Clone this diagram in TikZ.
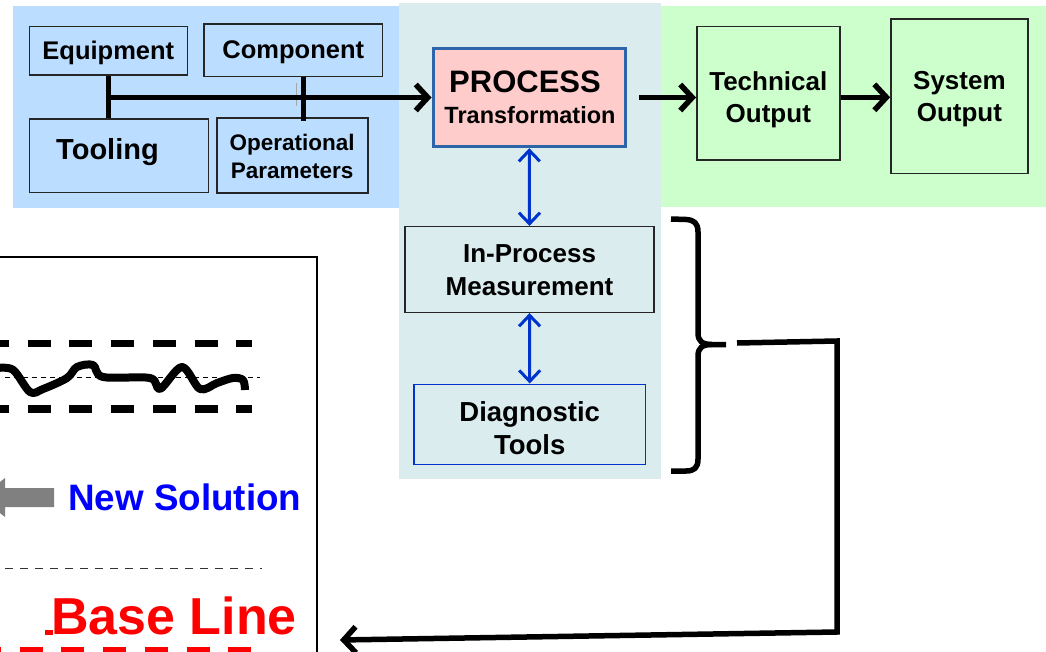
\documentclass[tikz,border=0pt]{standalone}
\usepackage{fontspec}
\setmainfont{Liberation Sans}
\usetikzlibrary{arrows.meta}
\definecolor{bluebg}{RGB}{187,221,255}
\definecolor{tealbg}{RGB}{218,236,237}
\definecolor{greenbg}{RGB}{204,255,204}
\definecolor{pinkfill}{RGB}{255,204,204}
\definecolor{procborder}{RGB}{46,100,168}
\definecolor{arrblue}{RGB}{0,51,204}
\definecolor{newblue}{RGB}{0,0,255}
\definecolor{basered}{RGB}{255,0,0}
\definecolor{arrgray}{RGB}{128,128,128}
\newcommand{\fsz}[2]{\fontsize{#1}{#2}\selectfont\bfseries}
\begin{document}
\begin{tikzpicture}[x=1pt,y=-1pt,
  box/.style={draw=black!85, line width=1.6pt, inner sep=0pt, align=center},
  lbl/.style={inner sep=0pt, align=center},
  txt/.style={inner sep=0pt, anchor=base},
  blackarrow/.style={line width=5.5pt, -{Straight Barb[length=12pt,width=26pt]}},
  bluearrow/.style={draw=arrblue, line width=3pt, {Straight Barb[length=11pt,width=21pt]}-{Straight Barb[length=11pt,width=21pt]}},
  stub/.style={line width=5pt}
]
\useasboundingbox (0,0) rectangle (1046,652);
\clip (0,0) rectangle (1046,652);
% backgrounds
\fill[bluebg] (13,6) rectangle (400,208);
\fill[greenbg] (660,6) rectangle (1046,207.5);
\fill[tealbg] (399,3) rectangle (660.7,479.3);

% top-left boxes
\node[box, fill=bluebg, minimum width=158pt, minimum height=48.3pt,
  label={[lbl, name=equipt, font=\fsz{25.5}{30}, yshift=-2.5pt]center:Equipment}] (equip) at (108.3,50.8) {};
\node[box, fill=bluebg, minimum width=178.7pt, minimum height=52.7pt,
  label={[lbl, name=compt, font=\fsz{25.5}{30}, yshift=-1.5pt]center:Component}] (comp) at (293.3,50.3) {};
\node[box, fill=bluebg, minimum width=179pt, minimum height=73.4pt] (tool) at (118.8,156) {};
\node[txt, font=\fsz{29}{34}] (toolt) at (107.5,160) {Tooling};
\node[box, fill=bluebg, minimum width=151pt, minimum height=75pt,
  label={[lbl, name=opert, font=\fsz{22.5}{28}, yshift=-1pt]center:Operational\\Parameters}] (oper) at (292.2,155.8) {};

% process box
\node[box, draw=procborder, line width=3pt, fill=pinkfill, minimum width=192.6pt, minimum height=98.4pt] (proc) at (529.3,97.5) {};
\node[txt, font=\fsz{31}{34}] (proct) at (525,92.3) {PROCESS};
\node[txt, font=\fsz{23.5}{28}] (transt) at (530,124) {Transformation};

% outputs
\node[box, fill=greenbg, minimum width=143pt, minimum height=133.3pt,
  label={[lbl, name=techt, font=\fsz{26}{32}, yshift=-6pt]center:Technical\\Output}] (tech) at (768.3,93.3) {};
\node[box, fill=greenbg, minimum width=137pt, minimum height=154.3pt,
  label={[lbl, name=syst, font=\fsz{26}{32}, yshift=-3pt]center:System\\Output}] (sys) at (959.4,96.2) {};

% measurement
\node[box, fill=tealbg, minimum width=249pt, minimum height=85.6pt,
  label={[lbl, name=inproct, font=\fsz{26}{33}, yshift=-1pt]center:In-Process\\Measurement}] (inproc) at (529.5,269.5) {};
\node[box, draw=arrblue, fill=tealbg, minimum width=231.3pt, minimum height=80pt,
  label={[lbl, name=diagt, font=\fsz{27.5}{33}, yshift=-4pt]center:Diagnostic\\Tools}] (diag) at (529.7,424.3) {};

% input connectors
\draw[stub] (equip.south) -- (equip.south |- tool.north);
\draw[stub] ([xshift=10pt]comp.south) -- ([xshift=10pt,yshift=-4pt]comp.south |- oper.north);
\draw[draw=black!35, line width=1.2pt] (296.7,83) -- (296.7,106);
\draw[blackarrow] (equip.south |- proc.west) -- (proc.west);

% output connectors
\draw[blackarrow] ([xshift=12pt]proc.east) -- (proc.east -| tech.west);
\draw[blackarrow] ([yshift=-4pt]tech.east) -- ([yshift=-4pt]tech.east -| sys.west);

% blue double arrows
\draw[bluearrow] (proc.south) -- (inproc.north);
\draw[bluearrow] (inproc.south) -- (diag.north);

% brace
\draw[line width=5.5pt, line join=round]
  (671,219) -- (686,219.5) .. controls (694,220) and (698,223) .. (698,232) -- (698,333)
  .. controls (698,341) and (702,344.5) .. (712,344.5) -- (726,344.5);
\draw[line width=5.5pt, line join=round]
  (712,344.5) .. controls (702,344.5) and (698,348) .. (698,356) -- (698,459)
  .. controls (698,468) and (694,471) .. (686,471) -- (671,471);

% feedback
\coordinate (fbA) at (737,343);
\coordinate (fbB) at (837,341);
\coordinate (fbC) at (837,632);
\coordinate (fbD) at (340,640);
\draw[line width=5.5pt, -{Straight Barb[length=12pt,width=26pt]}] (fbA) -- (fbB) -- (fbC) -- (fbD);

% chart panel
\draw[line width=2pt] (-10,257) rectangle (317,700);
\draw[line width=7.5pt, dash pattern=on 23pt off 18.7pt] (-14,343.3) -- (252,343.3);
\draw[line width=7.5pt, dash pattern=on 23pt off 18.7pt] (-14,409) -- (252,409);
\draw[line width=1pt, dash pattern=on 5pt off 4pt] (5,377) -- (260,377);
\draw[line width=8pt, line join=round] plot[smooth, tension=0.55] coordinates {
  (-2,368) (13.3,370) (30,392) (43,389) (67,378) (77,367) (93,365) (103,377)
  (150,378) (160,389) (182,367) (200,389) (217,383) (233,378) (243,380) (245,390)};
\fill[arrgray] (54,488) -- (5,488) -- (5,478) -- (-20,497.5) -- (5,517) -- (5,507) -- (54,507) -- cycle;
\node[txt, anchor=base west, text=newblue, font=\fsz{36.8}{40}] (newsol) at (68,510) {New Solution};
\draw[line width=1.5pt, draw=black!80, dash pattern=on 8pt off 7pt] (5,568.3) -- (262,568.3);
\node[txt, anchor=base west, text=basered, font=\fsz{52}{56}] (base) at (51,634) {Base Line};
\draw[basered, line width=4.5pt] (45,632.5) -- (53,632.5);
\draw[basered, line width=6pt, dash pattern=on 23pt off 18.7pt] (-22,649.5) -- (252,649.5);
\end{tikzpicture}
\end{document}
